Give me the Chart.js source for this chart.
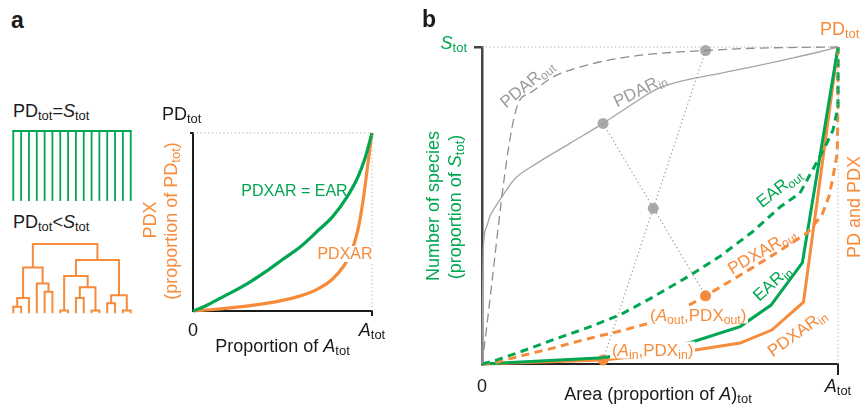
<!DOCTYPE html>
<html lang="en">
<head>
<meta charset="utf-8">
<title>PDX–area relationships</title>
<script src="https://cdn.jsdelivr.net/npm/chart.js@4.4.1/dist/chart.umd.min.js"></script>
<style>
  html, body { margin: 0; padding: 0; background: #fff; }
  #fig { position: relative; width: 861px; height: 409px; overflow: hidden; background: #fff;
         font-family: "Liberation Sans", Arial, Helvetica, sans-serif; color: #1a1a1a; }
  #fig canvas { position: absolute; }
  .lbl { position: absolute; white-space: nowrap; line-height: 1; font-size: 18px; }
  .lbl .s { font-size: 0.72em; position: relative; top: 0.24em; }
  .lbl i { font-style: italic; }
  .lbl.bg { background: #fff; padding: 0 2px; }
  .lbl.panel { font-weight: bold; font-size: 23px; }
</style>
</head>
<body>
<div id="fig">
  <canvas id="comb"   width="128" height="80"  style="left:8px;top:126px"></canvas>
  <canvas id="tree"   width="128" height="80"  style="left:8px;top:239px"></canvas>
  <canvas id="chartA" width="250" height="240" style="left:150px;top:100px"></canvas>
  <canvas id="chartB" width="441" height="375" style="left:420px;top:20px"></canvas>
</div>
<script>
const GREEN = '#00a651', ORANGE = '#f68b3c', GRAY = '#a5a5a5', GRAY_TEXT = '#9c9c9c', INK = '#1a1a1a';

// ---------- panel a: example phylogenies ----------
// star phylogeny: every tip hangs from one common bar (PD_tot = S_tot)
const combTips = [0, 1, 2, 3, 4, 5, 6, 7, 8, 9, 10, 11, 12, 13, 14, 15];
// ultrametric tree (PD_tot < S_tot): [merge height, left, right]; plain numbers are tips
const treeTopology = [1.00,
  [0.66, [0.22, [0.095, 0, 1], 2], [0.43, 3, [0.31, 4, 5]]],
  [0.77,
    [0.54, [0.04, 6, 7], [0.375, [0.22, 8, 9], [0.04, 10, 11]]],
    [0.26, [0.145, 12, 13], [0.04, 14, 15]]]];

// ---------- panel a: PDX accumulation curves ----------
const aEarX   = [0, 0.06, 0.13, 0.22, 0.32, 0.41, 0.50, 0.60, 0.69, 0.78, 0.86, 0.92, 0.96, 1];
const aEarY   = [0, 0.024, 0.06, 0.107, 0.164, 0.224, 0.289, 0.361, 0.444, 0.53, 0.64, 0.75, 0.855, 1];
const aPdxarX = [0, 0.13, 0.32, 0.50, 0.60, 0.69, 0.78, 0.84, 0.88, 0.92, 0.95, 0.98, 1];
const aPdxarY = [0, 0.01, 0.03, 0.06, 0.085, 0.12, 0.18, 0.25, 0.32, 0.45, 0.62, 0.85, 1];
const aTickMarks = [1];
const aTickValues = [0, 1];
const aTickLabels = ['0', '<i>A</i><span class="s">tot</span>'];

// ---------- panel b: area relationships inside / outside ----------
const bPdarInX  = [0, 0.001, 0.004, 0.013, 0.022, 0.041, 0.069, 0.093, 0.154, 0.247, 0.34, 0.425, 0.491, 0.566, 0.669, 0.762, 0.856, 0.949, 1];
const bPdarInY  = [0, 0.15, 0.37, 0.433, 0.465, 0.502, 0.549, 0.585, 0.633, 0.696, 0.759, 0.822, 0.867, 0.894, 0.917, 0.938, 0.961, 0.985, 1];
const bPdarOutX = [0, 0.098, 0.135, 0.199, 0.295, 0.388, 0.48, 0.628, 0.761, 1];
const bPdarOutY = [0, 0.811, 0.855, 0.905, 0.943, 0.965, 0.978, 0.989, 0.996, 1];
const bEarOutX  = [0, 0.042, 0.107, 0.199, 0.295, 0.388, 0.48, 0.576, 0.669, 0.761, 0.837, 0.893, 0.944, 0.969, 0.986, 1, 1];
const bEarOutY  = [0, 0.013, 0.038, 0.076, 0.114, 0.155, 0.211, 0.274, 0.34, 0.418, 0.495, 0.539, 0.644, 0.697, 0.738, 0.811, 1];
const bPdxarOutX = [0, 0.042, 0.107, 0.199, 0.295, 0.388, 0.48, 0.556, 0.628, 0.716, 0.809, 0.913, 0.955, 0.975, 0.985, 0.998, 1, 1];
const bPdxarOutY = [0, 0.006, 0.025, 0.05, 0.079, 0.104, 0.132, 0.17, 0.215, 0.274, 0.338, 0.413, 0.47, 0.53, 0.585, 0.666, 0.833, 1];
const bEarInX   = [0, 0.34, 0.586, 0.725, 0.812, 0.9, 1];
const bEarInY   = [0, 0.02, 0.068, 0.118, 0.186, 0.32, 1];
const bPdxarInX = [0, 0.34, 0.586, 0.725, 0.814, 0.903, 1];
const bPdxarInY = [0, 0.013, 0.042, 0.066, 0.107, 0.195, 1];
const bPdarMarkX = [0.34, 0.628], bPdarMarkY = [0.759, 0.989];
const bPdxMarkX  = [0.34, 0.628], bPdxMarkY  = [0.013, 0.215];
const bCrossX = [0.481], bCrossY = [0.491];
const bTickMarks = [1];
const bTickValues = [0, 1];
const bTickLabels = ['0', '<i>A</i><span class="s">tot</span>'];

// ---------- helpers ----------
const pts = (xs, ys) => xs.map((x, i) => ({ x, y: ys[i] }));

const base = {
  responsive: false, animation: false, devicePixelRatio: 1, events: [],
  plugins: { legend: { display: false }, tooltip: { enabled: false }, title: { display: false } },
  elements: { point: { radius: 0 }, line: { tension: 0, borderCapStyle: 'butt', borderJoinStyle: 'round' } }
};

function line(data, color, width, extra = {}) {
  return Object.assign({ data, showLine: true, borderColor: color, backgroundColor: color,
    borderWidth: width, pointRadius: 0, fill: false, clip: false }, extra);
}
function marks(data, color, r) {
  return { data, showLine: false, pointRadius: r, pointBackgroundColor: color,
    pointBorderWidth: 0, pointBorderColor: color, clip: false };
}
function axis(tickMarks, tickLen, color, width) {
  return {
    type: 'linear', min: 0, max: 1,
    afterBuildTicks: s => { s.ticks = tickMarks.map(v => ({ value: v })); },
    ticks: { display: false },
    grid: { display: true, drawOnChartArea: false, drawTicks: true, tickLength: tickLen, color, lineWidth: width },
    border: { display: true, color, width }
  };
}
const hidden = (max) => ({ type: 'linear', min: 0, max, display: false });

// ---------- panel a: phylogeny sketches ----------
const combPaths = [[{ x: combTips[0], y: 1 }, { x: combTips[combTips.length - 1], y: 1 }]]
  .concat(combTips.map(t => [{ x: t, y: 0 }, { x: t, y: 1 }]));

const treePathList = [];
(function walk(node) {
  if (typeof node === 'number') return { x: node, h: 0 };
  const [h, l, r] = node;
  const a = walk(l), b = walk(r);
  treePathList.push([{ x: a.x, y: a.h }, { x: a.x, y: h }, { x: b.x, y: h }, { x: b.x, y: b.h }]);
  return { x: (a.x + b.x) / 2, h };
})(treeTopology);

new Chart(document.getElementById('comb'), {
  type: 'scatter',
  data: { datasets: combPaths.map(p => line(p, GREEN, 1.8, { borderCapStyle: 'square' })) },
  options: Object.assign({}, base, {
    layout: { padding: { left: 5.3, right: 5.3, top: 5, bottom: 6 } },
    scales: { x: hidden(15), y: hidden(1) }
  })
});

new Chart(document.getElementById('tree'), {
  type: 'scatter',
  data: { datasets: treePathList.map(p => line(p, ORANGE, 2, { borderJoinStyle: 'miter' })) },
  options: Object.assign({}, base, {
    layout: { padding: { left: 5.3, right: 5.3, top: 5, bottom: 5.7 } },
    scales: { x: hidden(15), y: hidden(1) }
  })
});

// ---------- panel a: PDX vs proportion of area ----------
const dotted = { borderDash: [1.2, 2.6] };
const chartA = new Chart(document.getElementById('chartA'), {
  type: 'scatter',
  data: { datasets: [
    line([{ x: 0, y: 1 }, { x: 1, y: 1 }], '#b0b0b0', 1, dotted),
    line([{ x: 1, y: 0 }, { x: 1, y: 1 }], '#b0b0b0', 1, dotted),
    line(pts(aEarX, aEarY), GREEN, 3.2, { cubicInterpolationMode: 'monotone' }),
    line(pts(aPdxarX, aPdxarY), ORANGE, 3.2, { cubicInterpolationMode: 'monotone' })
  ] },
  options: Object.assign({}, base, {
    layout: { padding: { left: 40, top: 33, right: 28, bottom: 24 } },
    scales: { x: axis(aTickMarks, 5, INK, 2), y: axis(aTickMarks, 3, INK, 2) }
  })
});

// ---------- panel b: EAR / PDXAR / PDAR ----------
const connectorA = [{ x: bPdarMarkX[0], y: bPdarMarkY[0] }, { x: bPdxMarkX[1], y: bPdxMarkY[1] }];
const connectorB = [{ x: bPdarMarkX[1], y: bPdarMarkY[1] }, { x: bPdxMarkX[0], y: bPdxMarkY[0] }];
const chartB = new Chart(document.getElementById('chartB'), {
  type: 'scatter',
  data: { datasets: [
    line([{ x: 0, y: 1 }, { x: 1, y: 1 }], '#ababab', 1, dotted),
    line([{ x: 1, y: 0 }, { x: 1, y: 1 }], '#ababab', 1, dotted),
    line(connectorA, '#999', 1.2, { borderDash: [1.2, 2.8] }),
    line(connectorB, '#999', 1.2, { borderDash: [1.2, 2.8] }),
    line(pts(bPdarOutX, bPdarOutY), '#8e8e8e', 1.3, { borderDash: [9, 5], cubicInterpolationMode: 'monotone' }),
    line(pts(bPdarInX, bPdarInY), GRAY, 1.3, { cubicInterpolationMode: 'monotone' }),
    line(pts(bEarOutX, bEarOutY), GREEN, 3, { borderDash: [8, 5.5] }),
    line(pts(bPdxarOutX, bPdxarOutY), ORANGE, 3, { borderDash: [8, 5.5] }),
    line(pts(bEarInX, bEarInY), GREEN, 3, { borderJoinStyle: 'miter' }),
    line(pts(bPdxarInX, bPdxarInY), ORANGE, 3, { borderJoinStyle: 'miter' }),
    marks(pts(bPdarMarkX, bPdarMarkY), '#aaaaaa', 5.5),
    marks(pts(bCrossX, bCrossY), '#aaaaaa', 5.5),
    marks(pts(bPdxMarkX, bPdxMarkY), ORANGE, 5.5)
  ] },
  options: Object.assign({}, base, {
    layout: { padding: { left: 54, top: 27, right: 23, bottom: 20 } },
    scales: { x: axis(bTickMarks, 11, '#222', 2), y: axis(bTickMarks, 8, '#444', 2.5) }
  })
});

// ---------- text ----------
const fig = document.getElementById('fig');
function label(html, x, y, o = {}) {
  const el = document.createElement('div');
  el.className = 'lbl' + (o.cls ? ' ' + o.cls : '');
  el.innerHTML = html;
  el.style.left = x + 'px';
  el.style.top = y + 'px';
  if (o.size) el.style.fontSize = o.size + 'px';
  el.style.color = o.color || INK;
  const tx = o.anchor === 'left' ? '0' : o.anchor === 'right' ? '-100%' : '-50%';
  el.style.transform = `translate(${tx},-50%)` + (o.rot ? ` rotate(${o.rot}deg)` : '');
  fig.appendChild(el);
  return el;
}
const sub = t => `<span class="s">${t}</span>`;

// chart-local pixel -> page pixel
const canvasA = document.getElementById('chartA'), canvasB = document.getElementById('chartB');
const ax = v => canvasA.offsetLeft + chartA.scales.x.getPixelForValue(v);
const ay = v => canvasA.offsetTop + chartA.scales.y.getPixelForValue(v);
const bx = v => canvasB.offsetLeft + chartB.scales.x.getPixelForValue(v);
const by = v => canvasB.offsetTop + chartB.scales.y.getPixelForValue(v);

// panel letters
label('a', 11, 20, { anchor: 'left', cls: 'panel' });
label('b', 422, 19, { anchor: 'left', cls: 'panel' });

// phylogeny captions
label('PD' + sub('tot') + '=<i>S</i>' + sub('tot'), 13, 111, { anchor: 'left' });
label('PD' + sub('tot') + '&lt;<i>S</i>' + sub('tot'), 13, 221.5, { anchor: 'left' });

// panel a axes
aTickValues.forEach((v, i) => label(aTickLabels[i], ax(v), ay(0) + 19));
label('Proportion of <i>A</i>' + sub('tot'), (ax(0) + ax(1)) / 2, ay(0) + 35);
label('PD' + sub('tot'), ax(0) - 31, ay(1) - 19.5, { anchor: 'left' });
label('PDX', ax(0) - 43, (ay(0) + ay(1)) / 2 - 2, { rot: -90, color: ORANGE });
label('(proportion of PD' + sub('tot') + ')', ax(0) - 22, (ay(0) + ay(1)) / 2 - 1, { rot: -90, color: ORANGE });
label('PDXAR = EAR', 294.5, 190.5, { size: 16, color: GREEN });
label('PDXAR', 345, 253.5, { size: 16, color: ORANGE, cls: 'bg' });

// panel b axes
bTickValues.forEach((v, i) => label(bTickLabels[i], bx(v), by(0) + 22));
label('Area (proportion of <i>A</i>)' + sub('tot'), (bx(0) + bx(1)) / 2 - 2, by(0) + 29.5);
label('<i>S</i>' + sub('tot'), bx(0) - 15, by(1) - 4.5, { anchor: 'right', color: GREEN });
label('PD' + sub('tot'), bx(1) - 18, by(1) - 18.5, { anchor: 'left', color: ORANGE });
label('Number of species', bx(0) - 49, (by(0) + by(1)) / 2, { rot: -90, color: GREEN });
label('(proportion of <i>S</i>' + sub('tot') + ')', bx(0) - 27, (by(0) + by(1)) / 2 + 1, { rot: -90, color: GREEN });
label('PD and PDX', bx(1) + 16, (by(0) + by(1)) / 2 + 1, { rot: -90, color: ORANGE });

// panel b curve labels (anchored in data space)
const curveLabels = [
  { html: 'PDAR' + sub('out'),  x: 0.126, y: 0.883, rot: -40, color: GRAY_TEXT },
  { html: 'PDAR' + sub('in'),   x: 0.444, y: 0.864, rot: -26, color: GRAY_TEXT },
  { html: 'EAR' + sub('out'),   x: 0.834, y: 0.555, rot: -38, color: GREEN },
  { html: 'PDXAR' + sub('out'), x: 0.787, y: 0.356, rot: -30, color: ORANGE },
  { html: 'EAR' + sub('in'),    x: 0.815, y: 0.256, rot: -42, color: GREEN },
  { html: 'PDXAR' + sub('in'),  x: 0.885, y: 0.098, rot: -36, color: ORANGE }
];
curveLabels.forEach(l => label(l.html, bx(l.x), by(l.y), { size: 17, rot: l.rot, color: l.color }));
label('(<i>A</i>' + sub('in') + ',PDX' + sub('in') + ')', bx(0.365) - 2, by(0.044), { anchor: 'left', size: 17, color: ORANGE, cls: 'bg' });
label('(<i>A</i>' + sub('out') + ',PDX' + sub('out') + ')', bx(0.472) - 2, by(0.155), { anchor: 'left', size: 17, color: ORANGE, cls: 'bg' });
</script>
</body>
</html>
